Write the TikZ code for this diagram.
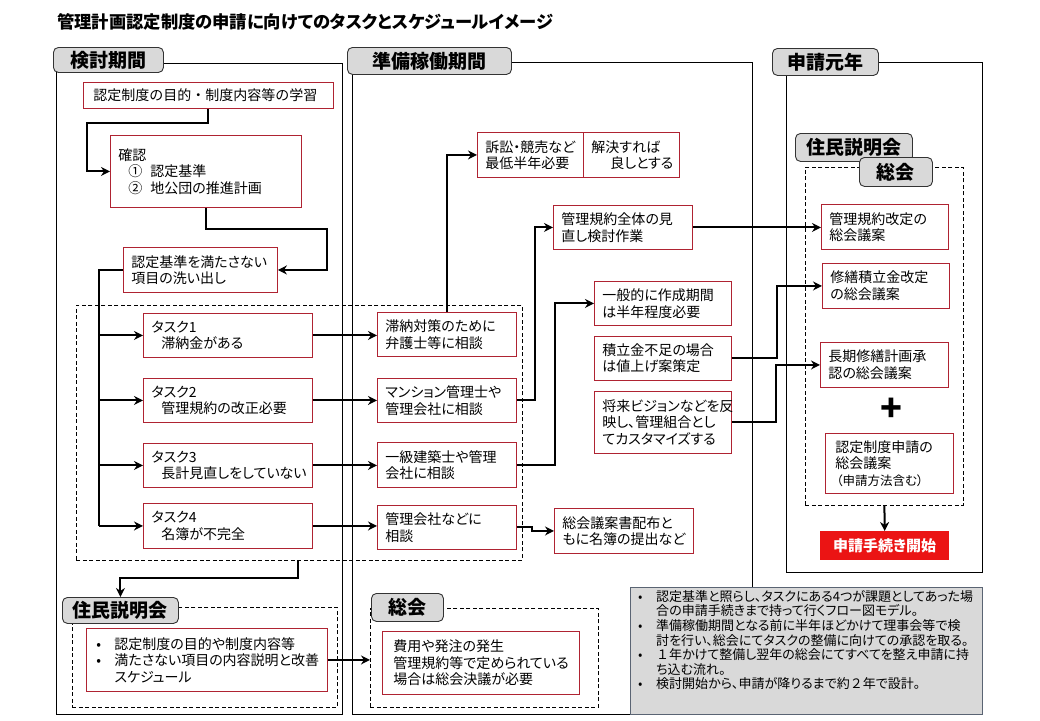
\documentclass[tikz,border=0pt]{standalone}
\usepackage{fontspec}
\setmainfont{Noto Sans CJK JP}[RawFeature=+palt]
\newfontfamily\fwfont{Noto Sans CJK JP}
\usetikzlibrary{arrows.meta}
\definecolor{boxred}{RGB}{175,35,50}
\definecolor{tabgray}{RGB}{217,217,217}
\definecolor{notegray}{RGB}{217,217,217}
\definecolor{noteedge}{RGB}{90,100,115}
\definecolor{startred}{RGB}{235,20,20}
\newcommand\rbx[6]{\pgfmathsetmacro\tw{#4-#2-16}\pgfmathsetmacro\th{#5-#3}\node[rbox,text width=\tw pt,minimum height=\th pt] (#1) at (#2,#3) {#6};}
\newcommand\tabx[6]{\pgfmathsetmacro\tw{#4-#2}\pgfmathsetmacro\th{#5-#3}\node[tabbox,minimum width=\tw pt,minimum height=\th pt] (#1) at (#2,#3) {#6};}
\newcommand\dbx[5]{\pgfmathsetmacro\tw{#4-#2}\pgfmathsetmacro\th{#5-#3}\node[dashbox,minimum width=\tw pt,minimum height=\th pt] (#1) at (#2,#3) {};}
\newcommand\frx[5]{\pgfmathsetmacro\tw{#4-#2}\pgfmathsetmacro\th{#5-#3}\node[framebox,minimum width=\tw pt,minimum height=\th pt] (#1) at (#2,#3) {};}
\begin{document}
\begin{tikzpicture}[x=1pt,y=-1pt,
  rbox/.style={draw=boxred, line width=0.9pt, fill=white, anchor=north west, inner xsep=8pt, inner ysep=0pt, align=left, font=\fontsize{14}{16.5}\selectfont},
  tabbox/.style={draw=black!80, fill=tabgray, rounded corners=5pt, line width=0.9pt, anchor=north west, inner sep=0pt, font=\fontsize{19}{19}\selectfont\bfseries},
  dashbox/.style={draw, dash pattern=on 4pt off 2.5pt, line width=0.8pt, anchor=north west, inner sep=0pt},
  framebox/.style={draw, line width=0.9pt, anchor=north west, inner sep=0pt},
  arr/.style={line width=2pt, -{Stealth[length=9pt,width=9pt]}},
  thk/.style={line width=2pt}]
\useasboundingbox[fill=white] (0,0) rectangle (1040,720);
\node[anchor=west, inner sep=0pt, font=\fontsize{17.3}{17.3}\selectfont\bfseries] (title) at (57,22) {管理計画認定制度の申請に向けてのタスクとスケジュールイメージ};
% frames
\frx{f1}{56}{63}{342}{714}
\frx{f2}{352}{62}{752}{714}
\frx{f3}{786}{62}{982}{572}
\dbx{tasks}{76}{305}{522}{560}
\dbx{d3}{805}{167}{963}{505}
\dbx{d1b}{72}{607}{337}{707}
\dbx{d2b}{370}{608}{598}{707}
% tabs
\tabx{tab1}{53}{47}{163}{72}{検討期間}
\tabx{tab2}{347}{47}{511}{74}{準備稼働期間}
\tabx{tab3}{772}{48}{878}{75}{申請元年}
\tabx{tab3a}{795}{133}{912}{161}{住民説明会}
\tabx{tab3b}{859}{157}{932}{186}{総会}
\tabx{tab1b}{62}{597}{178}{623}{住民説明会}
\tabx{tab2b}{371}{593}{443}{621}{総会}
% column 1
\rbx{b1}{83}{82}{333}{108}{\hspace*{2pt}{\fwfont 認定制度の目的・制度内容等の学習}}
\rbx{b2}{110}{135}{301}{207}{確認\\\hspace*{10pt}①\hspace*{8pt}認定基準\\\hspace*{10pt}②\hspace*{8pt}地公団の推進計画}
\rbx{b3}{123}{247}{277}{292}{認定基準を満たさない\\項目の洗い出し}
\rbx{t1}{143}{313}{312}{357}{タスク1\\\hspace*{10pt}滞納金がある}
\rbx{t2}{143}{378}{312}{422}{タスク2\\\hspace*{10pt}管理規約の改正必要}
\rbx{t3}{143}{443}{312}{487}{タスク3\\\hspace*{10pt}長計見直しをしていない}
\rbx{t4}{143}{503}{312}{548}{タスク4\\\hspace*{10pt}名簿が不完全}
% column 2
\rbx{c1}{377}{312}{516}{356}{滞納対策のために\\弁護士等に相談}
\rbx{c2}{377}{378}{516}{422}{マンション管理士や\\管理会社に相談}
\rbx{c3}{377}{442}{516}{487}{一級建築士や管理\\会社に相談}
\rbx{c4}{377}{505}{516}{549}{管理会社などに\\相談}
\rbx{s1}{477}{132}{583}{177}{訴訟・競売など\\最低半年必要}
\rbx{s2}{583}{132}{679}{177}{解決すれば\\\hspace*{19pt}良しとする}
\rbx{r}{553}{205}{692}{249}{管理規約全体の見\\直し検討作業}
\rbx{g1}{594}{281}{731}{325}{一般的に作成期間\\は半年程度必要}
\rbx{g2}{594}{336}{731}{380}{積立金不足の場合\\は値上げ案策定}
\rbx{g3}{594}{391}{731}{453}{将来ビジョンなどを反\\映し、管理組合とし\\てカスタマイズする}
\rbx{n}{554}{508}{693}{553}{総会議案書配布と\\もに名簿の提出など}
% column 3
\rbx{k1}{821}{204}{948}{249}{管理規約改定の\\総会議案}
\rbx{k2}{822}{263}{949}{308}{修繕積立金改定\\の総会議案}
\rbx{k3}{820}{342}{948}{387}{長期修繕計画承\\認の総会議案}
\node[inner sep=0pt, font=\fontsize{36}{36}\selectfont\bfseries] (plus) at (891,410) {+};
\rbx{k4}{825}{433}{953}{493}{\hspace*{2pt}認定制度申請の\\\hspace*{2pt}総会議案\\\hspace*{3pt}{\fontsize{12.5}{15}\selectfont（申請方法含む）}}
\node[anchor=north west, fill=startred, text=white, minimum width=129pt, minimum height=29pt, inner sep=0pt, font=\fontsize{15}{15}\selectfont\bfseries] (start) at (820,531) {申請手続き開始};
% bottom
\rbx{jb}{86}{628}{327}{691}{\makebox[20pt][l]{\hspace*{2pt}•}認定制度の目的や制度内容等\\\makebox[20pt][l]{\hspace*{2pt}•}満たさない項目の内容説明と改善\\\hspace*{20pt}スケジュール}
\rbx{kb}{382}{631}{579}{694}{\hspace*{3pt}費用や発注の発生\\\hspace*{3pt}管理規約等で定められている\\\hspace*{3pt}場合は総会決議が必要}
% note
\node[anchor=north west, draw=noteedge, fill=notegray, line width=1.4pt, minimum width=352pt, minimum height=127pt, inner sep=0pt] (note) at (630,587) {};
\node[anchor=north west, inner sep=0pt, align=left, font=\fontsize{13}{14.6}\selectfont] (notet) at (636,590) {%
\makebox[20pt][l]{\hspace*{2pt}•}認定基準と照らし、タスクにある4つが課題としてあった場\\
\hspace*{20pt}合の申請手続きまで持って行くフロー図モデル。\\
\makebox[20pt][l]{\hspace*{2pt}•}準備稼働期間となる前に半年ほどかけて理事会等で検\\
\hspace*{20pt}討を行い、総会にてタスクの整備に向けての承認を取る。\\
\makebox[20pt][l]{\hspace*{2pt}•}{\fwfont １}年かけて整備し翌年の総会にてすべてを整え申請に持\\
\hspace*{20pt}ち込む流れ。\\
\makebox[20pt][l]{\hspace*{2pt}•}検討開始から、申請が降りるまで約{\fwfont ２}年で設計。};
% connectors
\draw[arr] (b1.south) -- ++(0,14) -| ([xshift=-23pt]b2.west) -- (b2.west);
\draw[arr] (b2.south) -- ++(0,21) -| ([xshift=49pt]b3.east) -- (b3.east);
\draw[thk] (b3.west) -- ++(-24,0) coordinate (sp) -- (sp |- t4.west);
\foreach \t in {t1,t2,t3,t4} \draw[arr] (sp |- \t.west) -- (\t.west);
\draw[arr] (t1.east) -- (t1.east -| c1.west);
\draw[arr] (t2.east) -- (t2.east -| c2.west);
\draw[arr] (t3.east) -- (t3.east -| c3.west);
\draw[arr] (t4.east) -- (t4.east -| c4.west);
\draw[arr] (c1.north) |- (s1.west);
\draw[arr] (c2.east) -- ++(18,0) |- (r.west);
\draw[arr] (r.east) -- (r.east -| k1.west);
\draw[arr] (c3.east) -- ++(38,0) |- (g1.west);
\draw[arr] (g2.east) -- ++(45,0) |- (k2.west);
\draw[arr] (g3.east) -- ++(44,0) |- (k3.west);
\draw[arr] (c4.east) -- ++(15,0) |- (n.west);
\draw[arr] (d3.south) -- (start.north);
\draw[arr] ([xshift=222pt]tasks.south west) -- ++(0,17) -| (tab1b.north);
\draw[arr] (jb.east) -- (jb.east -| d2b.west);
\end{tikzpicture}
\end{document}
